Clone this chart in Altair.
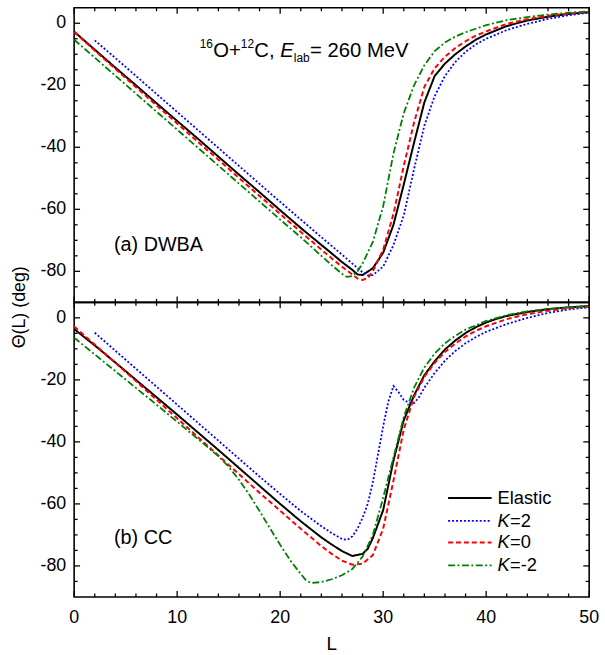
import altair as alt
import pandas as pd

# ---------------- data ----------------
# Panel (a) DWBA
a_el_L = [0, 2, 4, 6, 8, 10, 12, 14, 16, 18, 20, 22, 24, 25, 26, 27, 27.5, 28, 29, 30, 31, 32, 33, 34, 35, 36, 37, 38, 39, 40, 42, 44, 46, 48, 50]
a_el_T = [-2.7, -8.5, -14.3, -20.0, -25.8, -31.5, -37.2, -43.0, -48.8, -54.5, -60.3, -66.0, -71.5, -74.2, -77.0, -79.5, -81.0, -81.2, -79.0, -74.0, -65.0, -52.0, -38.5, -25.5, -17.0, -13.0, -10.0, -7.5, -5.3, -3.6, -0.9, 0.9, 2.1, 3.0, 3.6]

a_k2_L = [2, 4, 6, 8, 10, 12, 14, 16, 18, 20, 22, 24, 25, 26, 27, 28, 28.5, 29, 30, 31, 32, 33, 34, 35, 36, 37, 38, 39, 40, 42, 44, 46, 48, 50]
a_k2_T = [-5.5, -11.2, -17.0, -22.8, -28.6, -34.4, -40.2, -46.0, -51.8, -57.6, -63.3, -69.0, -71.8, -74.6, -77.5, -80.3, -81.3, -81.2, -78.5, -71.5, -62.0, -47.0, -33.0, -23.5, -17.0, -12.5, -9.2, -6.8, -5.0, -2.2, -0.2, 1.4, 2.6, 3.4]

a_k0_L = [0, 2, 4, 6, 8, 10, 12, 14, 16, 18, 20, 22, 24, 25, 26, 27, 27.5, 28, 28.5, 29, 30, 31, 32, 33, 34, 35, 36, 37, 38, 39, 40, 42, 44, 46, 48, 50]
a_k0_T = [-2.8, -8.8, -14.7, -20.6, -26.5, -32.3, -38.2, -44.0, -49.9, -55.7, -61.5, -67.3, -73.0, -75.8, -78.5, -81.0, -82.3, -82.8, -82.2, -80.0, -73.0, -61.5, -46.0, -32.0, -20.5, -14.5, -10.8, -8.0, -5.8, -4.0, -2.6, -0.2, 1.3, 2.4, 3.1, 3.6]

a_km2_L = [0, 2, 4, 6, 8, 10, 12, 14, 16, 18, 20, 22, 23, 24, 25, 26, 26.5, 27, 27.5, 28, 29, 30, 31, 32, 33, 34, 35, 36, 37, 38, 40, 42, 44, 46, 48, 50]
a_km2_T = [-5.3, -11.1, -16.9, -22.7, -28.5, -34.3, -40.1, -45.9, -51.7, -57.5, -63.3, -69.0, -72.0, -75.0, -78.0, -80.8, -81.8, -81.5, -80.0, -77.5, -70.5, -59.0, -42.0, -29.0, -20.0, -13.5, -9.0, -6.2, -4.3, -2.9, -0.6, 1.0, 2.0, 2.8, 3.4, 3.8]

# Panel (b) CC
b_el_L = [0, 2, 4, 6, 8, 10, 12, 14, 16, 18, 20, 22, 24, 25, 26, 27, 28, 28.5, 29, 30, 31, 32, 33, 34, 35, 36, 37, 38, 39, 40, 41, 42, 44, 46, 48, 50]
b_el_T = [-3.6, -8.9, -14.4, -20.0, -25.6, -31.2, -36.9, -42.6, -48.4, -54.2, -60.0, -65.6, -70.8, -73.1, -75.2, -76.8, -76.1, -74.5, -71.0, -62.0, -46.0, -33.0, -25.0, -18.5, -14.0, -10.2, -7.3, -4.9, -3.0, -1.5, -0.3, 0.6, 1.9, 2.8, 3.4, 3.8]

b_k2_L = [2, 4, 6, 8, 10, 12, 14, 16, 18, 20, 22, 24, 25, 26, 26.5, 27, 27.5, 28, 28.5, 29, 29.5, 30, 30.5, 31, 31.5, 32, 32.5, 33, 33.5, 34, 35, 36, 37, 38, 39, 40, 42, 44, 46, 48, 50]
b_k2_T = [-4.8, -10.6, -16.4, -22.2, -28.0, -33.8, -39.6, -45.4, -51.2, -56.8, -62.3, -67.2, -69.4, -71.3, -71.6, -70.5, -68.0, -64.5, -60.0, -53.0, -44.0, -35.0, -27.0, -22.0, -24.0, -26.5, -27.3, -27.5, -25.5, -22.5, -17.8, -13.8, -10.7, -8.2, -6.2, -4.5, -2.0, 0.0, 1.6, 2.7, 3.4]

b_k0_L = [0, 2, 4, 6, 8, 10, 12, 14, 16, 18, 20, 22, 24, 25, 26, 27, 28, 29, 30, 31, 32, 33, 34, 35, 36, 37, 38, 39, 40, 42, 44, 46, 48, 50]
b_k0_T = [-2.8, -8.6, -14.5, -20.4, -26.4, -32.4, -38.4, -44.4, -50.4, -56.4, -62.2, -68.0, -73.6, -76.1, -78.3, -79.6, -79.3, -76.5, -68.0, -52.5, -36.0, -25.5, -19.0, -14.5, -11.0, -8.3, -6.0, -4.2, -2.7, -0.4, 1.2, 2.3, 3.1, 3.6]

b_km2_L = [0, 2, 4, 6, 8, 10, 12, 14, 15, 16, 17, 18, 19, 20, 21, 22, 22.5, 23, 24, 25, 26, 27, 28, 29, 30, 31, 32, 33, 34, 35, 36, 37, 38, 40, 42, 44, 46, 48, 50]
b_km2_T = [-6.4, -11.8, -17.2, -22.6, -28.0, -33.5, -39.0, -44.6, -48.0, -52.2, -57.0, -62.3, -67.8, -73.2, -78.3, -82.6, -84.6, -85.5, -85.2, -84.3, -83.0, -81.0, -77.0, -70.0, -58.0, -45.0, -32.0, -22.5, -16.0, -11.5, -8.2, -5.8, -3.8, -1.0, 0.9, 2.1, 2.9, 3.4, 3.8]

series_names = ["Elastic", "K=2", "K=0", "K=-2"]

x_major = [0, 10, 20, 30, 40, 50]
x_labels = ["0", "10", "20", "30", "40", "50"]
x_minor = [2, 4, 6, 8, 12, 14, 16, 18, 22, 24, 26, 28, 32, 34, 36, 38, 42, 44, 46, 48]
y_major = [0, -20, -40, -60, -80]
y_labels = ["0", "-20", "-40", "-60", "-80"]
y_minor = [-5, -10, -15, -25, -30, -35, -45, -50, -55, -65, -70, -75, -85]

# ---------------- styling ----------------
W, H = 521, 298
FONT = "Liberation Sans"
XDOM = [0, 50]
YDOM = [-90, 5]

STY = {
    "Elastic": dict(color="black", dash=[1, 0], width=2.0),
    "K=2": dict(color="#0000ff", dash=[2, 2], width=1.8),
    "K=0": dict(color="#ff0000", dash=[5, 3], width=2.0),
    "K=-2": dict(color="#008000", dash=[7, 2.5, 2, 2.5], width=1.8),
}


def xs():
    return alt.Scale(domain=XDOM, nice=False, zero=False)


def ys():
    return alt.Scale(domain=YDOM, nice=False, zero=False)


def line_layer(L, T, key):
    df = pd.DataFrame({"L": L, "theta": T})
    s = STY[key]
    return alt.Chart(df).mark_line(
        color=s["color"], strokeDash=s["dash"], strokeWidth=s["width"], clip=True
    ).encode(
        x=alt.X("L:Q", scale=xs(), axis=None),
        y=alt.Y("theta:Q", scale=ys(), axis=None),
    )


def tick_layers():
    out = []
    for vals, ln in ((x_major, 6), (x_minor, 3.5)):
        d = pd.DataFrame({"L": vals})
        out.append(alt.Chart(d).mark_rule(color="black", strokeWidth=1.3).encode(
            x=alt.X("L:Q", scale=xs(), axis=None), y=alt.value(H), y2=alt.value(H - ln)))
        out.append(alt.Chart(d).mark_rule(color="black", strokeWidth=1.3).encode(
            x=alt.X("L:Q", scale=xs(), axis=None), y=alt.value(0), y2=alt.value(ln)))
    for vals, ln in ((y_major, 6), (y_minor, 3.5)):
        d = pd.DataFrame({"theta": vals})
        out.append(alt.Chart(d).mark_rule(color="black", strokeWidth=1.3).encode(
            y=alt.Y("theta:Q", scale=ys(), axis=None), x=alt.value(0), x2=alt.value(ln)))
        out.append(alt.Chart(d).mark_rule(color="black", strokeWidth=1.3).encode(
            y=alt.Y("theta:Q", scale=ys(), axis=None), x=alt.value(W), x2=alt.value(W - ln)))
    return out


def y_label_layer():
    d = pd.DataFrame({"theta": y_major, "lab": y_labels})
    return alt.Chart(d).mark_text(font=FONT, fontSize=18, align="right", baseline="middle", color="black").encode(
        y=alt.Y("theta:Q", scale=ys(), axis=None), x=alt.value(-8), text="lab:N")


def x_label_layer():
    d = pd.DataFrame({"L": x_major, "lab": x_labels})
    return alt.Chart(d).mark_text(font=FONT, fontSize=18, align="center", baseline="middle", color="black").encode(
        x=alt.X("L:Q", scale=xs(), axis=None), y=alt.value(H + 21), text="lab:N")


def text_layer(txt, x, y, size, style="normal", align="left", baseline="alphabetic", angle=0):
    d = pd.DataFrame({"t": [txt]})
    kw = dict(font=FONT, fontSize=size, fontStyle=style, align=align, baseline=baseline, color="black")
    if angle:
        kw["angle"] = angle
    return alt.Chart(d).mark_text(**kw).encode(x=alt.value(x), y=alt.value(y), text="t:N")


def panel(data):
    layers = []
    for key, (L, T) in zip(series_names, data):
        layers.append(line_layer(L, T, key))
    layers += tick_layers()
    layers.append(y_label_layer())
    return layers


# ---- top panel ----
top_layers = panel([(a_el_L, a_el_T), (a_k2_L, a_k2_T), (a_k0_L, a_k0_T), (a_km2_L, a_km2_T)])
# title pieces: 16O+12C, E_lab = 260 MeV
t0 = 127.0
top_layers += [
    text_layer("16", t0, 41, 12),
    text_layer("O+", t0 + 13.6, 50, 20.5),
    text_layer("12", t0 + 41.6, 41, 12),
    text_layer("C,", t0 + 55.2, 50, 20.5),
    text_layer("E", t0 + 81.5, 50, 20.5, style="italic"),
    text_layer("lab", t0 + 95.2, 55, 12),
    text_layer("= 260 MeV", t0 + 111.6, 50, 20.5),
    text_layer("(a) DWBA", 40.3, 240, 20, baseline="middle"),
    text_layer("\u0398(L) (deg)", -54.7, 303, 18, align="center", baseline="middle", angle=270),
]
top = alt.layer(*top_layers).properties(width=W, height=H)

# ---- bottom panel ----
bot_layers = panel([(b_el_L, b_el_T), (b_k2_L, b_k2_T), (b_k0_L, b_k0_T), (b_km2_L, b_km2_T)])
bot_layers.append(x_label_layer())
bot_layers.append(text_layer("L", W / 2, H + 48, 19, align="center", baseline="middle"))
bot_layers.append(text_layer("(b) CC", 40.3, 238.5, 20, baseline="middle"))

# legend (drawn by hand so that the K can be italic)
leg_y = [198, 221, 243, 266]
for key, yy in zip(series_names, leg_y):
    s = STY[key]
    d = pd.DataFrame({"k": [key]})
    bot_layers.append(alt.Chart(d).mark_rule(color=s["color"], strokeDash=s["dash"], strokeWidth=s["width"]).encode(
        x=alt.value(378.3), x2=alt.value(422.3), y=alt.value(yy)))
    if key == "Elastic":
        bot_layers.append(text_layer("Elastic", 428.3, yy, 18.5, baseline="middle"))
    else:
        bot_layers.append(text_layer("K", 428.3, yy, 18.5, style="italic", baseline="middle"))
        bot_layers.append(text_layer(key[1:], 441.0, yy, 18.5, baseline="middle"))

bottom = alt.layer(*bot_layers).properties(width=W, height=H)

chart = alt.vconcat(top, bottom, spacing=0, bounds="flush").properties(
    padding={"left": 10, "top": 2, "right": 5, "bottom": 5}
).configure_view(stroke="black", strokeWidth=1.6)

chart.save("out.html", embed_options={"renderer": "svg", "actions": False})
